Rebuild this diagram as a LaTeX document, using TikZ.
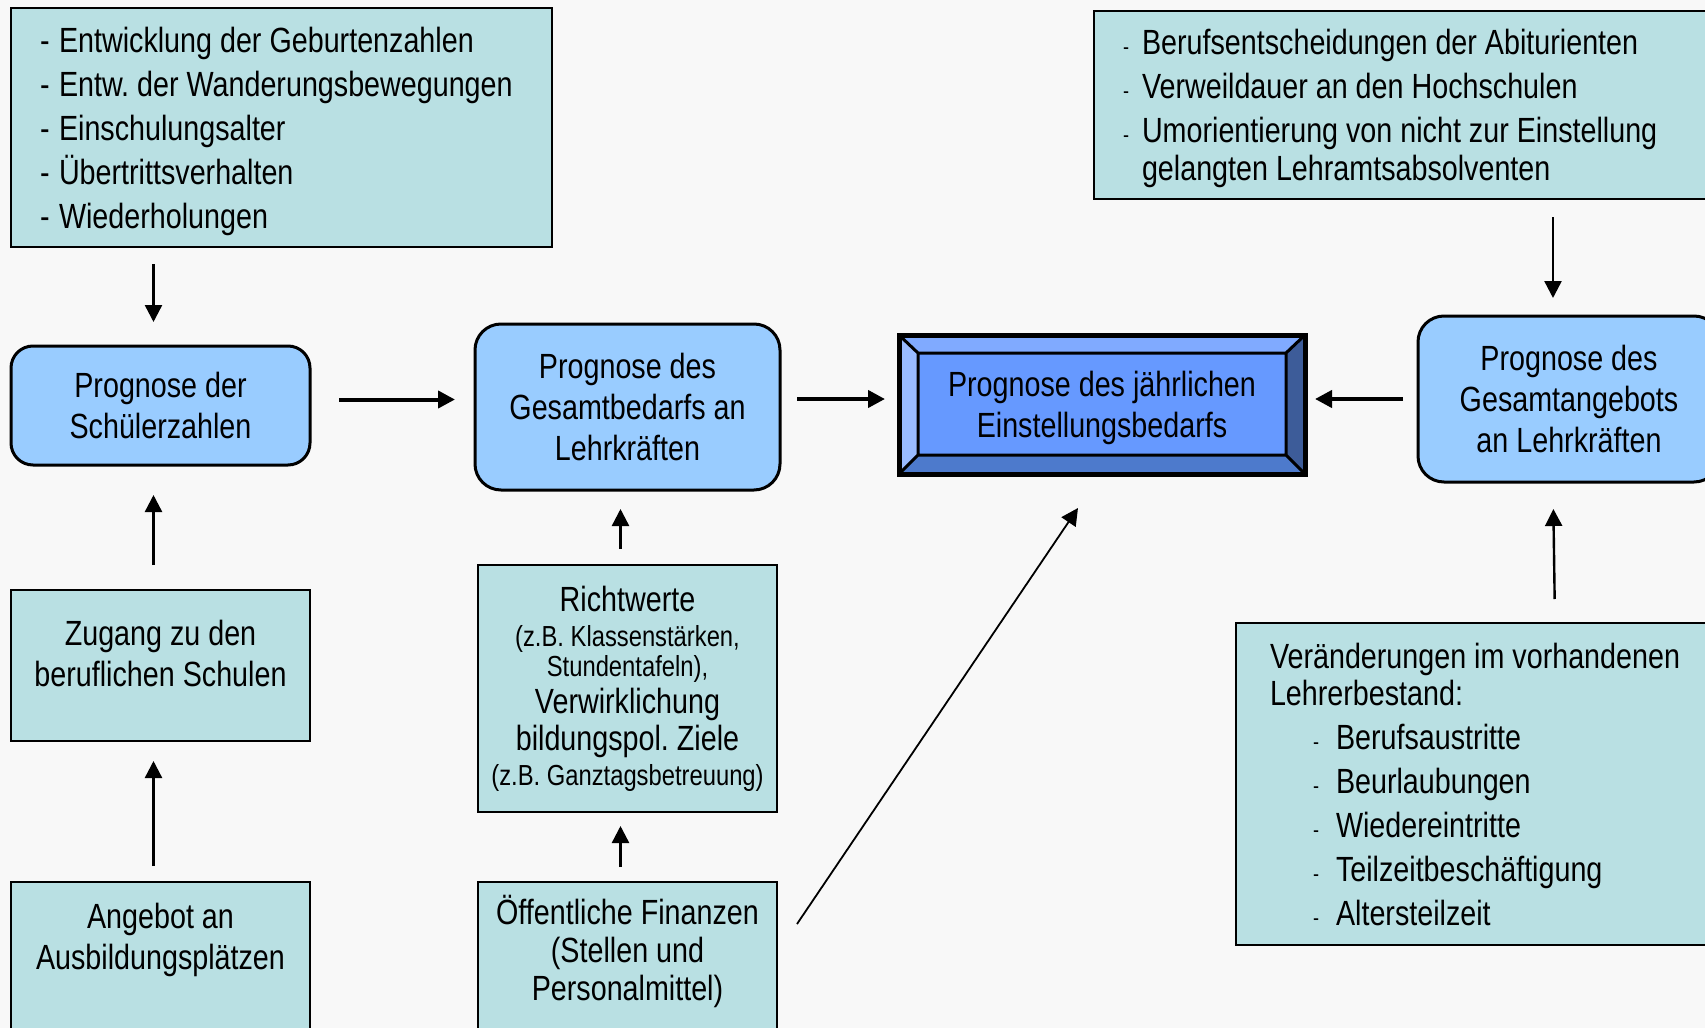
\documentclass[tikz,border=0pt]{standalone}
\usepackage{fontspec}
\setmainfont{Liberation Sans}[FakeStretch=0.82]
\usetikzlibrary{arrows.meta, positioning, calc}
\definecolor{hintergrund}{HTML}{F8F8F8}
\definecolor{tuerkis}{HTML}{B9E0E3}
\definecolor{hellblau}{HTML}{99CCFF}
\definecolor{kernblau}{HTML}{6699FF}
\definecolor{kanteoben}{HTML}{80AAFF}
\definecolor{kantelinks}{HTML}{99BBFF}
\definecolor{kanteunten}{HTML}{4D7ACC}
\definecolor{kanterechts}{HTML}{3D5C99}
\frenchspacing
\newcommand{\strich}{\makebox[9.5pt][l]{-}}
\newcommand{\kstrich}[1]{\makebox[#1][l]{\fontsize{11}{11}\selectfont -}}
\newcommand{\klein}{\fontsize{14.5}{15}\selectfont}
\newcommand{\obenbox}[2][75pt]{\parbox[c][#1][t]{140pt}{\centering\strut #2}}
% linksbuendiger Block, um #1 nach unten versetzt
\newcommand{\linksblock}[3]{\raisebox{-#1}[\height][\depth]{\parbox{#2}{\raggedright #3}}}

\begin{document}
\begin{tikzpicture}[x=0.5pt, y=-0.5pt,
  every node/.style={font=\fontsize{17.5}{20.5}\selectfont, outer sep=0pt},
  tbox/.style={draw, line width=0.75pt, fill=tuerkis},
  rbox/.style={draw, line width=1.5pt, fill=hellblau, rounded corners=11pt, align=center},
  pfeil/.style={-{Triangle[length=8.5pt,width=8.5pt]}, line width=1.2pt},
  dick/.style={line width=2pt}]
  \useasboundingbox (0,0) rectangle (1705,1028);
  \clip (0,0) rectangle (1705,1028);
  \fill[hintergrund] (0,0) rectangle (1705,1028);

  % linke Spalte
  \node[tbox, anchor=north west, minimum height=119.5pt, inner xsep=14.5pt] (einfluss) at (11,8)
    {\linksblock{2.2pt}{241.5pt}{\fontsize{17.5}{19.5}\selectfont
     \strich Entwicklung der Geburtenzahlen\\[2.5pt]
     \strich Entw. der Wanderungsbewegungen\\[2.5pt]
     \strich Einschulungsalter\\[2.5pt]
     \strich Übertrittsverhalten\\[2.5pt]
     \strich Wiederholungen}};
  \node[rbox, minimum width=149.5pt, minimum height=59.5pt] (schueler) at (160.5,405.5)
    {Prognose der\\Schülerzahlen};
  \node[tbox, anchor=north, minimum width=149.5pt, inner xsep=0pt, inner ysep=13.5pt] (zugang) at (160.5,590)
    {\obenbox[48.5pt]{Zugang zu den\\beruflichen Schulen}};
  \node[tbox, anchor=north, minimum width=149.5pt, inner xsep=0pt, inner ysep=9pt] (angebot) at (160.5,882)
    {\obenbox{Angebot an\\Ausbildungsplätzen}};

  % mittlere Spalte
  \node[rbox, rounded corners=13pt, minimum width=152.5pt, minimum height=83pt] (bedarf) at (627.5,407)
    {Prognose des\\Gesamtbedarfs an\\Lehrkräften};
  \node[tbox, minimum width=149.5pt, minimum height=123.5pt, inner xsep=2.25pt] (richtwerte) at (627.5,688.5)
    {\parbox{145pt}{\centering\fontsize{17.5}{18.5}\selectfont Richtwerte\par\vspace{2.5pt}
     {\klein (z.B. Klassenstärken,\\Stundentafeln),\par}
     Verwirklichung\\bildungspol. Ziele\par
     {\fontsize{14.5}{17.5}\selectfont (z.B. Ganztagsbetreuung)\par}}};
  \node[tbox, anchor=north, minimum width=149.5pt, inner xsep=0pt, inner ysep=6.5pt] (finanz) at (627.5,882)
    {\obenbox{\fontsize{17.5}{19}\selectfont Öffentliche Finanzen\\(Stellen und\\Personalmittel)}};

  % Ziel
  \node[draw, line width=2pt, fill=kernblau, minimum width=203pt, minimum height=69.5pt] (zentral) at (1102,404.5)
    {\raisebox{-2.3pt}[\height][\depth]{\begin{tabular}{@{}c@{}}Prognose des jährlichen\\Einstellungsbedarfs\end{tabular}}};
  \coordinate (iNW) at ($(zentral.north west)+(9.5pt,-9pt)$);
  \coordinate (iNE) at ($(zentral.north east)+(-9.5pt,-9pt)$);
  \coordinate (iSW) at ($(zentral.south west)+(9.5pt,9.5pt)$);
  \coordinate (iSE) at ($(zentral.south east)+(-9.5pt,9.5pt)$);
  \fill[kanteoben] (zentral.north west) -- (zentral.north east) -- (iNE) -- (iNW) -- cycle;
  \fill[kantelinks] (zentral.north west) -- (iNW) -- (iSW) -- (zentral.south west) -- cycle;
  \fill[kanteunten] (zentral.south west) -- (iSW) -- (iSE) -- (zentral.south east) -- cycle;
  \fill[kanterechts] (zentral.north east) -- (zentral.south east) -- (iSE) -- (iNE) -- cycle;
  \draw[line width=1.5pt] (iNW) rectangle (iSE)
    (zentral.north west) -- (iNW) (zentral.north east) -- (iNE)
    (zentral.south west) -- (iSW) (zentral.south east) -- (iSE);
  \draw[line width=2.5pt] (zentral.north west) rectangle (zentral.south east);

  % rechte Spalte
  \node[tbox, anchor=north west, minimum height=94pt, inner xsep=14.5pt] (abitur) at (1094,11)
    {\linksblock{1.5pt}{290pt}{\fontsize{17.5}{19}\selectfont
     \kstrich{9.5pt}Berufsentscheidungen der Abiturienten\\[3pt]
     \kstrich{9.5pt}Verweildauer an den Hochschulen\\[3pt]
     \kstrich{9.5pt}Umorientierung von nicht zur Einstellung\\
     \hspace*{9.5pt}gelangten Lehramtsabsolventen}};
  \node[rbox, rounded corners=13pt, minimum width=151pt, minimum height=83pt] (angebots) at (1569,399)
    {Prognose des\\Gesamtangebots\\an Lehrkräften};
  \node[tbox, anchor=north west, minimum height=161pt, inner xsep=17pt] (lehrer) at (1236,623)
    {\linksblock{0pt}{230pt}{\fontsize{17.5}{18.5}\selectfont
     Veränderungen im vorhandenen\\Lehrerbestand:\\[3.5pt]
     \hspace*{21.5pt}\kstrich{11.5pt}Berufsaustritte\\[3.5pt]
     \hspace*{21.5pt}\kstrich{11.5pt}Beurlaubungen\\[3.5pt]
     \hspace*{21.5pt}\kstrich{11.5pt}Wiedereintritte\\[3.5pt]
     \hspace*{21.5pt}\kstrich{11.5pt}Teilzeitbeschäftigung\\[3.5pt]
     \hspace*{21.5pt}\kstrich{11.5pt}Altersteilzeit}};

  % Pfeile
  \draw[pfeil, shorten <=8.5pt, shorten >=12pt] ($(schueler.north |- einfluss.south)+(-3.5pt,0)$) -- ($(schueler.north)+(-3.5pt,0)$);
  \draw[pfeil, shorten <=12.5pt, shorten >=15pt] ($(zugang.north)+(-3.5pt,0)$) -- ($(schueler.south)+(-3.5pt,0)$);
  \draw[pfeil, shorten <=8pt, shorten >=10pt] ($(angebot.north)+(-3.5pt,0)$) -- ($(zugang.south)+(-3.5pt,0)$);
  \draw[pfeil, shorten <=8pt, shorten >=9.5pt] ($(richtwerte.north)+(-3.5pt,0)$) -- ($(bedarf.south)+(-3.5pt,0)$);
  \draw[pfeil, shorten <=7.5pt, shorten >=7pt] ($(finanz.north)+(-3.5pt,0)$) -- ($(richtwerte.south)+(-3.5pt,0)$);
  \draw[pfeil, shorten <=9pt, shorten >=9pt] ($(angebots.north |- abitur.south)+(-8pt,0)$) -- ($(angebots.north)+(-8pt,0)$);
  \draw[pfeil, shorten <=12pt, shorten >=13.5pt] ($(angebots.south |- lehrer.north)+(-7pt,0)$) -- ($(angebots.south)+(-8pt,0)$);
  \draw[pfeil, dick, shorten <=14.5pt, shorten >=10pt] ($(schueler.east)+(0,3pt)$) -- ($(schueler.east -| bedarf.west)+(0,3pt)$);
  \draw[pfeil, dick, shorten <=8.5pt, shorten >=7pt] ($(bedarf.east)+(0,4pt)$) -- ($(bedarf.east -| zentral.west)+(0,4pt)$);
  \draw[pfeil, dick, shorten <=7.5pt, shorten >=5pt] (angebots.west) -- (angebots.west -| zentral.east);
  \draw[pfeil, line width=0.9pt] ($(finanz.north east)+(10pt,-21pt)$) -- ($(zentral.south)+(-12pt,-17pt)$);
\end{tikzpicture}
\end{document}
